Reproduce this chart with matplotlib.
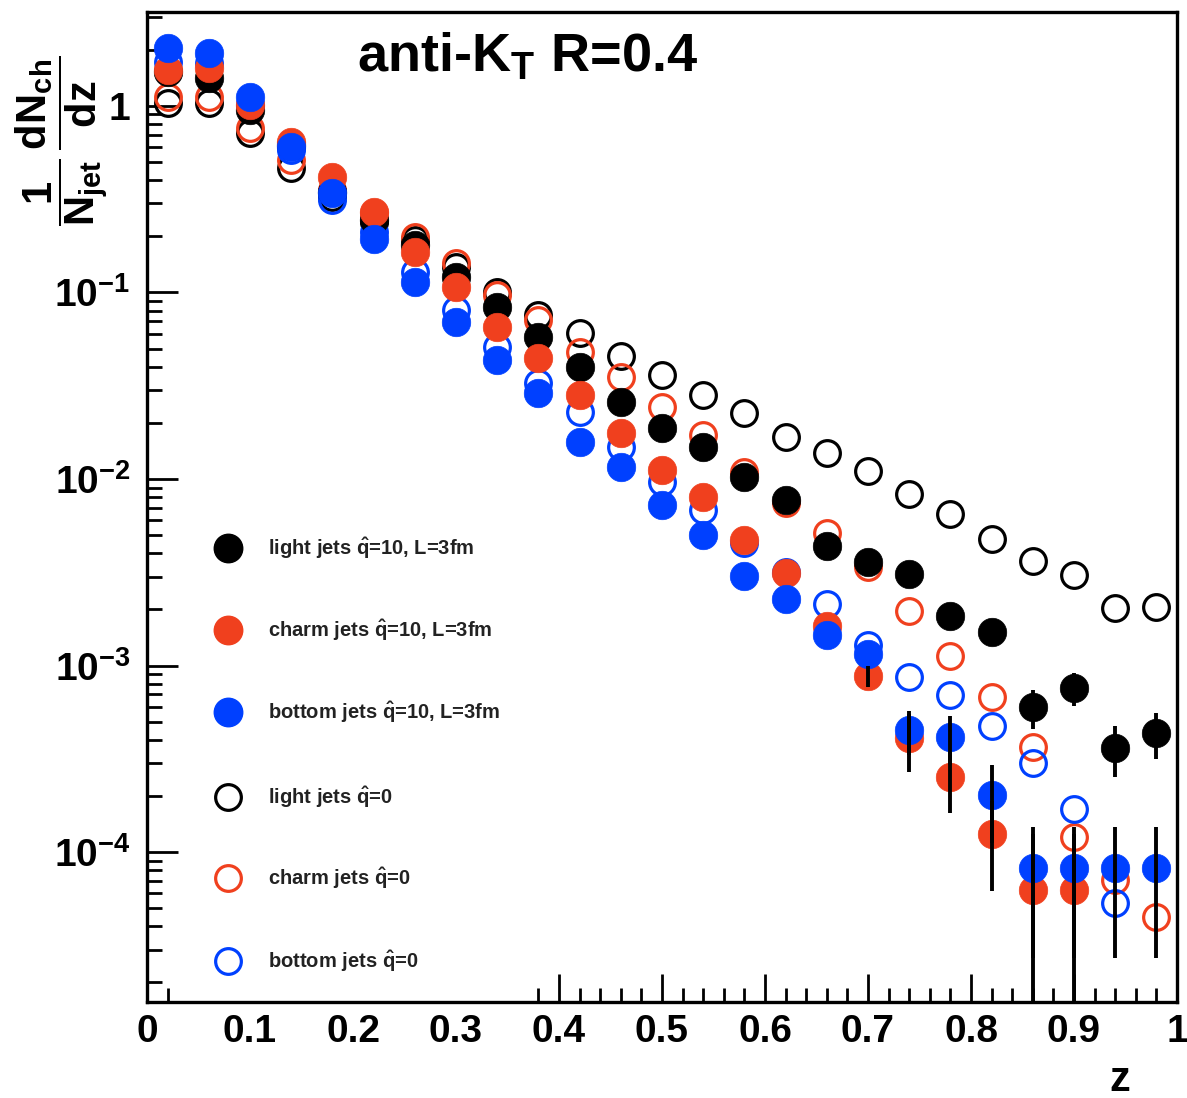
import numpy as np
import matplotlib
matplotlib.use("Agg")
import matplotlib.pyplot as plt
from matplotlib.ticker import FixedLocator, FuncFormatter, LogLocator, NullFormatter
from matplotlib.patches import Rectangle
from matplotlib.lines import Line2D

plt.rcParams["font.family"] = ["Liberation Sans", "DejaVu Sans"]
plt.rcParams["font.weight"] = "bold"
plt.rcParams["mathtext.fontset"] = "custom"
plt.rcParams["mathtext.rm"] = "Liberation Sans:bold"
plt.rcParams["mathtext.bf"] = "Liberation Sans:bold"
plt.rcParams["mathtext.it"] = "Liberation Sans:bold"
plt.rcParams["mathtext.sf"] = "Liberation Sans:bold"
plt.rcParams["mathtext.default"] = "bf"

# bin centres in z (bin width 0.04)
z = [0.02, 0.06, 0.10, 0.14, 0.18, 0.22, 0.26, 0.30, 0.34, 0.38, 0.42, 0.46, 0.50,
     0.54, 0.58, 0.62, 0.66, 0.70, 0.74, 0.78, 0.82, 0.86, 0.90, 0.94, 0.98]

nan = np.nan

# quenched (qhat = 10, L = 3 fm)
light_q = [1.52, 1.41, 0.95, 0.618, 0.346, 0.245, 0.18, 0.121, 0.0836, 0.0577, 0.0399,
           0.0259, 0.0188, 0.0149, 0.01025, 0.0077, 0.00437, 0.00359, 0.0031, 0.00184,
           0.00151, 0.000599, 0.000757, 0.000361, 0.000435]
light_q_err = [0, 0, 0, 0, 0, 0, 0, 0, 0, 0, 0, 0, 0, 0, 0, 0, 0, 0,
               0, 0, 0, 0.00014, 0.00015, 0.00011, 0.00012]

charm_q = [1.56, 1.60, 1.01, 0.641, 0.416, 0.270, 0.165, 0.107, 0.0653, 0.0445, 0.0282,
           0.0177, 0.0112, 0.0080, 0.00471, 0.00313, 0.00163, 0.000879, 0.000408,
           0.000252, 0.000125, 6.25e-5, 6.25e-5, nan, nan]
charm_q_err = [0, 0, 0, 0, 0, 0, 0, 0, 0, 0, 0, 0, 0, 0, 0, 0, 0,
               0.00011, 0.00014, 0.00009, 0.000063, 6.25e-5, 6.25e-5, 0, 0]

bottom_q = [2.05, 1.92, 1.12, 0.603, 0.342, 0.194, 0.114, 0.0695, 0.0435, 0.0289, 0.0158,
            0.0116, 0.00726, 0.00501, 0.00302, 0.00227, 0.00146, 0.00115, 0.000451,
            0.000414, 0.000202, 8.2e-5, 8.2e-5, 8.2e-5, 8.2e-5]
bottom_q_err = [0, 0, 0, 0, 0, 0, 0, 0, 0, 0, 0, 0, 0, 0, 0, 0, 0,
                0, 0.00012, 0.00012, 0.00009, 5.5e-5, 5.5e-5, 5.5e-5, 5.5e-5]

# vacuum (qhat = 0)
light_vac = [1.04, 1.04, 0.717, 0.465, 0.325, 0.239, 0.191, 0.137, 0.1006, 0.0757, 0.0607,
             0.0457, 0.0361, 0.0282, 0.0226, 0.0168, 0.0138, 0.0110, 0.00831, 0.00649,
             0.00477, 0.00363, 0.00306, 0.00203, 0.00206]
charm_vac = [1.12, 1.12, 0.762, 0.513, 0.355, 0.267, 0.199, 0.144, 0.097, 0.0712, 0.048,
             0.0352, 0.0243, 0.0172, 0.0109, 0.00744, 0.00513, 0.00337, 0.00196, 0.00112,
             0.000678, 0.000365, 0.000120, 7.08e-5, 4.48e-5]
bottom_vac = [1.72, 1.70, 1.01, 0.581, 0.313, 0.211, 0.129, 0.0805, 0.051, 0.0327, 0.0229,
              0.0149, 0.00963, 0.00682, 0.00454, 0.00317, 0.00214, 0.00129, 0.000867,
              0.000695, 0.000474, 0.000300, 0.000170, 5.33e-5, nan]

BLACK = "#000000"
RED = "#f0401e"
BLUE = "#0040ff"

labels = [r"light jets $\hat{q}$=10, L=3fm",
          r"charm jets $\hat{q}$=10, L=3fm",
          r"bottom jets $\hat{q}$=10, L=3fm",
          r"light jets $\hat{q}$=0",
          r"charm jets $\hat{q}$=0",
          r"bottom jets $\hat{q}$=0"]

W, H = 1187, 1098
fig = plt.figure(figsize=(W / 100, H / 100), dpi=100)
ax = fig.add_axes([147 / W, 1 - 1002 / H, (1177 - 147) / W, (1002 - 12) / H])

ax.set_yscale("log")
ax.set_xlim(0, 1)
ax.set_ylim(1.57e-5, 3.19)

MS = 20.5
MS_OPEN = 18.5
MEW = 2.3

# vacuum curves: open circles
for vals, col in [(light_vac, BLACK), (charm_vac, RED), (bottom_vac, BLUE)]:
    ax.plot(z, vals, ls="none", marker="o", ms=MS_OPEN, mfc="none", mec=col, mew=MEW,
            zorder=3)

# quenched curves: filled circles
for vals, col in [(light_q, BLACK), (charm_q, RED), (bottom_q, BLUE)]:
    ax.plot(z, vals, ls="none", marker="o", ms=MS, mfc=col, mec=col, mew=0.5, zorder=4)

# statistical errors of the quenched curves
for vals, errs in [(light_q, light_q_err), (charm_q, charm_q_err), (bottom_q, bottom_q_err)]:
    ax.errorbar(z, vals, yerr=errs, fmt="none", ecolor="black", elinewidth=2.8,
                capsize=0, zorder=5)

# axes styling
for sp in ax.spines.values():
    sp.set_linewidth(2.4)
    sp.set_color("black")

ax.xaxis.set_major_locator(FixedLocator([0, 0.1, 0.2, 0.3, 0.4, 0.5, 0.6, 0.7, 0.8, 0.9, 1.0]))
ax.xaxis.set_minor_locator(FixedLocator([i * 0.02 for i in range(51)]))


def xfmt(v, pos):
    if abs(v) < 1e-9:
        return "0"
    if abs(v - 1) < 1e-9:
        return "1"
    return f"{v:.1f}"


ax.xaxis.set_major_formatter(FuncFormatter(xfmt))
ax.yaxis.set_major_locator(FixedLocator([1e-4, 1e-3, 1e-2, 1e-1, 1]))
ax.yaxis.set_minor_locator(LogLocator(base=10, subs=np.arange(2, 10), numticks=20))
ax.yaxis.set_minor_formatter(NullFormatter())


def yfmt(v, pos):
    e = int(round(np.log10(v)))
    if e == 0:
        return "1"
    return r"$10^{%d}$" % e


ax.yaxis.set_major_formatter(FuncFormatter(yfmt))

ax.tick_params(axis="x", which="major", direction="in", length=20, width=2.0,
               labelsize=28, pad=9)
ax.tick_params(axis="x", which="minor", direction="in", length=10, width=2.0)
ax.tick_params(axis="y", which="major", direction="in", length=22, width=2.0,
               labelsize=28, pad=12)
ax.tick_params(axis="y", which="minor", direction="in", length=11, width=2.0)
for lab in ax.get_xticklabels() + ax.get_yticklabels():
    lab.set_fontweight("bold")

# legend panel (white box, no border)
ax.add_patch(Rectangle(((185 - 147) / 1030, 0.0), (520 - 185) / 1030, (1002 - 515) / 990,
                       transform=ax.transAxes, facecolor="white", edgecolor="none",
                       zorder=2.2))
rows_px = [548, 630, 712, 797, 878, 961]
styles = [(BLACK, True), (RED, True), (BLUE, True), (BLACK, False), (RED, False), (BLUE, False)]
for ypx, (col, filled), lab in zip(rows_px, styles, labels):
    ya = (1002 - ypx) / 990
    if filled:
        h = Line2D([(228 - 147) / 1030], [ya], ls="none", marker="o", ms=MS, mfc=col,
                   mec=col, transform=ax.transAxes, zorder=6)
    else:
        h = Line2D([(228 - 147) / 1030], [ya], ls="none", marker="o", ms=MS_OPEN,
                   mfc="none", mec=col, mew=MEW, transform=ax.transAxes, zorder=6)
    ax.add_line(h)
    ax.text((268 - 147) / 1030, ya, lab, transform=ax.transAxes, fontsize=14.5,
            fontweight="bold", va="center", ha="left", color="#222222", zorder=6)

# title and axis titles
fig.text(528 / W, 1 - 57 / H, r"anti-K$_{T}$ R=0.4", ha="center", va="center",
         fontsize=39, fontweight="bold")
fig.text(1120 / W, 1 - 1080 / H, "z", ha="center", va="center", fontsize=30,
         fontweight="bold")
fig.text(62 / W, 1 - 226 / H, r"$\dfrac{1}{N_{jet}}\,\dfrac{dN_{ch}}{dz}$", rotation=90,
         ha="center", va="bottom", fontsize=30, fontweight="bold")

fig.savefig("out.png", dpi=100, facecolor="white")
